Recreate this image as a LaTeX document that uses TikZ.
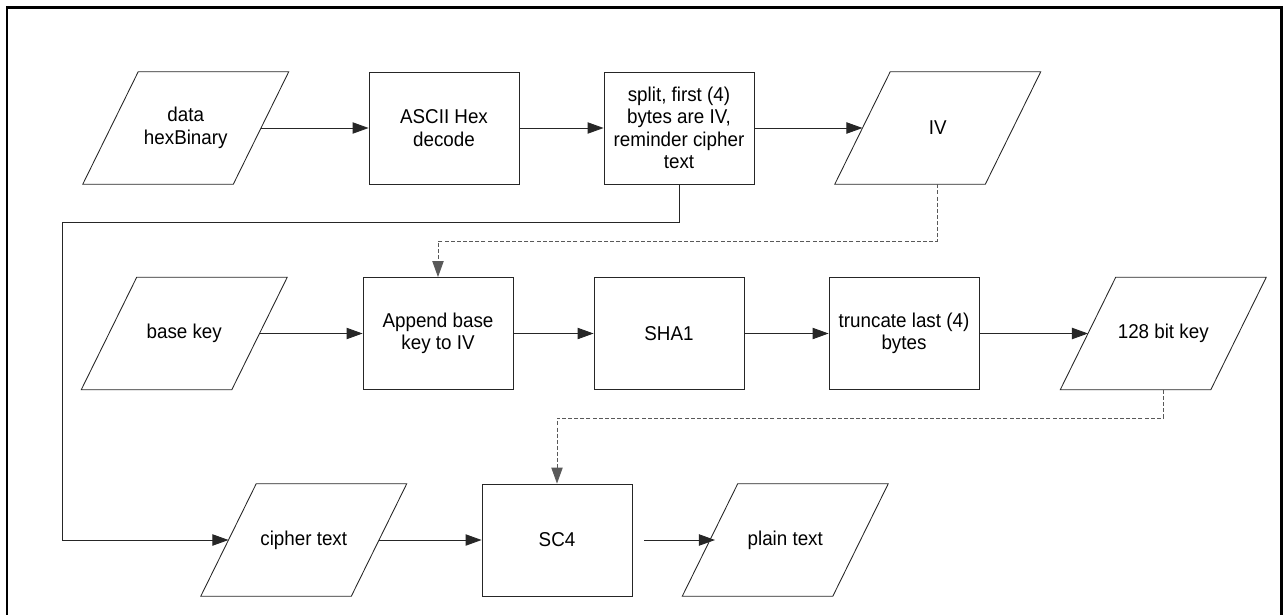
\documentclass[tikz,border=0pt]{standalone}
\usepackage{fontspec}
\setmainfont{Liberation Sans}[FakeStretch=0.94]
\usetikzlibrary{arrows.meta,calc}
\tikzset{
  box/.style={draw=black!85, line width=0.65pt, minimum width=112.5pt, minimum height=84pt,
    inner sep=2pt, align=center, font=\fontsize{15}{16.8}\selectfont},
  paranode/.style={draw=none, minimum width=112.5pt, minimum height=84pt,
    inner sep=2pt, align=center, font=\fontsize{15}{16.8}\selectfont},
  paraline/.style={draw=black!85, line width=0.65pt},
  arr/.style={draw=black!85, line width=0.65pt, -{Triangle[length=12pt,width=8.5pt]}},
  darr/.style={draw=black!65, line width=0.65pt, dash pattern=on 3pt off 1.6pt,
    -{Triangle[length=12pt,width=8.5pt]}},
  frameline/.style={draw=black, line width=1.6pt}
}
\newcommand\drawpara[1]{%
  \draw[paraline] ([xshift=20.8pt]#1.north west) -- ([xshift=20.8pt]#1.north east)
    -- ([xshift=-20.8pt]#1.south east) -- ([xshift=-20.8pt]#1.south west) -- cycle;}
\begin{document}
\begin{tikzpicture}[x=0.75pt,y=-0.75pt]
\useasboundingbox (0,0) rectangle (1288,614);
\draw[frameline] (7,616) -- (7,7.5) -- (1281.5,7.5) -- (1281.5,616);
% row 1
\node[paranode] (data) at (185.75,128) {data\\hexBinary};
\drawpara{data}
\node[box] (ascii) at (444,128) {ASCII Hex\\decode};
\node[box] (split) at (679,128) {split, first (4)\\bytes are IV,\\reminder cipher\\text};
\node[paranode] (iv) at (937.75,128) {IV};
\drawpara{iv}
% row 2
\node[paranode] (base) at (184.25,333.5) {base key};
\drawpara{base}
\node[box] (append) at (438,333.5) {Append base\\key to IV};
\node[box] (sha) at (669,333.5) {SHA1};
\node[box] (trunc) at (904,333.5) {truncate last (4)\\bytes};
\node[paranode] (key) at (1163.25,333.5) {128 bit key};
\drawpara{key}
% row 3
\node[paranode] (cipher) at (303.75,540) {cipher text};
\drawpara{cipher}
\node[box] (sc) at (557,540) {SC4};
\node[paranode] (plain) at (785.25,540) {plain text};
\drawpara{plain}
% route coordinates
\coordinate (r1) at (62,222);
\coordinate (d1) at (438,241);
\coordinate (d2) at (557,418);
% connectors
\draw[arr] (data) -- (ascii);
\draw[arr] (ascii) -- (split);
\draw[arr] (split) -- (iv);
\draw[arr] (split.south) |- (r1) |- (cipher.west);
\draw[darr] (iv.south) |- (d1) -- (append.north);
\draw[arr] (base) -- (append);
\draw[arr] (append) -- (sha);
\draw[arr] (sha) -- (trunc);
\draw[arr] (trunc) -- (key);
\draw[darr] (key.south) |- (d2) -- (sc.north);
\draw[arr] (cipher) -- (sc);
\draw[arr] ([xshift=9pt]sc.east) -- ([xshift=3.75pt]plain.west);
\end{tikzpicture}
\end{document}
